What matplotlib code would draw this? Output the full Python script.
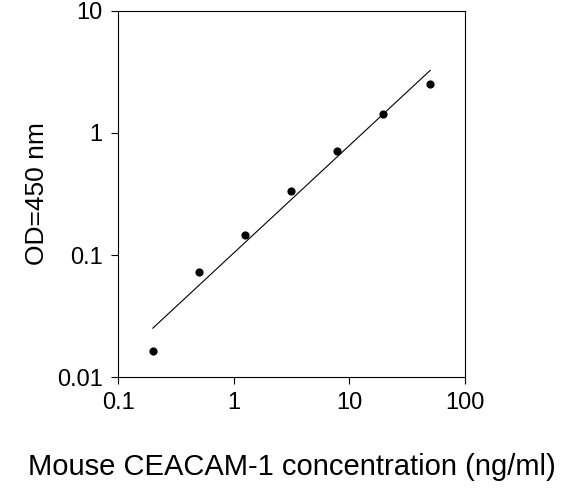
import numpy as np
import matplotlib
matplotlib.use("Agg")
import matplotlib.pyplot as plt

conc = [0.2, 0.5, 1.25, 3.125, 7.8, 19.5, 50]
od = [0.0163, 0.0726, 0.146, 0.335, 0.71, 1.43, 2.52]
xticks = [0.1, 1, 10, 100]
xlabels = ["0.1", "1", "10", "100"]
yticks = [0.01, 0.1, 1, 10]
ylabels = ["0.01", "0.1", "1", "10"]

plt.rcParams['font.family'] = ['Liberation Sans', 'DejaVu Sans']
fig = plt.figure(figsize=(5.88, 4.94), dpi=100)
ax = fig.add_axes([0.2007, 0.2368, 0.590, 0.741])
ax.set_xscale('log'); ax.set_yscale('log')
ax.set_xlim(0.1, 100); ax.set_ylim(0.01, 10)
ax.scatter(conc, od, s=24, color='black', zorder=3)
lx = np.log10(conc); ly = np.log10(od)
m, b = np.polyfit(lx, ly, 1)
xx = np.array([lx[0], lx[-1]])
ax.plot(10**xx, 10**(m*xx + b), color='black', lw=0.8)
ax.set_xticks(xticks); ax.set_xticklabels(xlabels)
ax.set_yticks(yticks); ax.set_yticklabels(ylabels)
ax.minorticks_off()
ax.tick_params(direction='out', labelsize=17, length=5, pad=6)
ax.set_xlabel("Mouse CEACAM-1 concentration (ng/ml)", fontsize=21, labelpad=28)
ax.set_ylabel("OD=450 nm", fontsize=19, labelpad=6)
fig.savefig("out.png", dpi=100)
